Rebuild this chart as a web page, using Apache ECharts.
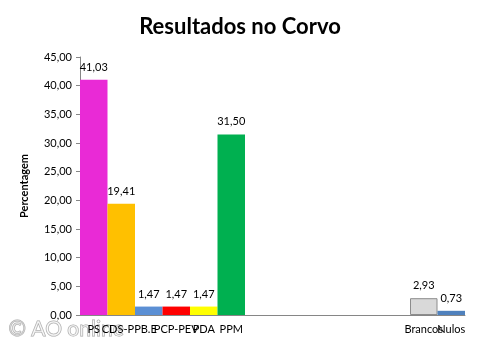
<!DOCTYPE html>
<html><head><meta charset="utf-8">
<script src="https://cdn.jsdelivr.net/npm/echarts@6/dist/echarts.min.js"></script>
<style>html,body{margin:0;padding:0;background:#fff}#c{width:480px;height:348px}</style>
</head><body><div id="c"></div>
<script>
const categories = ['PS','CDS-PP','B.E','PCP-PEV','PDA','PPM','','','','','','','Brancos','Nulos'];
const values = [41.03, 19.41, 1.47, 1.47, 1.47, 31.50, null, null, null, null, null, null, 2.93, 0.73];
const colors = ['#E92AD6','#FFC000','#5B8FD4','#FF0000','#FFFF00','#00B050','#fff','#fff','#fff','#fff','#fff','#fff','#D9D9D9','#4F81BD'];
const yTicks = {min:0, max:45, interval:5};
const fmt = v => v.toFixed(2).replace('.', ',');
const chart = echarts.init(document.getElementById('c'));
chart.setOption({
  animation:false,
  textStyle:{fontFamily:'Lato'},
  title:{text:'Resultados no Corvo', left:'center', top:11,
    textStyle:{fontFamily:'Lato', fontWeight:'bold', fontSize:22, color:'#000'}},
  grid:{left:80, right:15, top:57, bottom:33},
  xAxis:{type:'category', data:categories,
    axisLine:{lineStyle:{color:'#868686'}}, axisTick:{show:false},
    axisLabel:{interval:0, color:'#000', fontSize:11, margin:9, hideOverlap:false}},
  yAxis:{type:'value', min:yTicks.min, max:yTicks.max, interval:yTicks.interval,
    name:'Percentagem', nameLocation:'middle', nameGap:50, nameRotate:90,
    nameTextStyle:{fontWeight:'bold', fontSize:11, color:'#000'},
    axisLine:{show:true, lineStyle:{color:'#868686'}},
    axisTick:{show:true, length:4, lineStyle:{color:'#868686'}},
    splitLine:{show:false},
    axisLabel:{color:'#000', fontSize:11, margin:8, formatter:fmt}},
  series:[{type:'bar', barCategoryGap:'0%',
    data: values.map((v,i)=>({value:v, itemStyle:{color:colors[i],
      borderColor: i===12 ? '#8C8C8C' : undefined, borderWidth: i===12 ? 1 : 0}})),
    label:{show:true, position:'top', distance:7, color:'#000', fontSize:11,
      formatter:p => p.value==null ? '' : fmt(p.value)}}],
  graphic:[{type:'text', left:8, top:318, style:{text:'© AO online', fontSize:21,
    fontFamily:'Lato', fill:'rgba(255,255,255,0.5)', stroke:'#a8a8a8', lineWidth:1}}]
});
</script></body></html>
